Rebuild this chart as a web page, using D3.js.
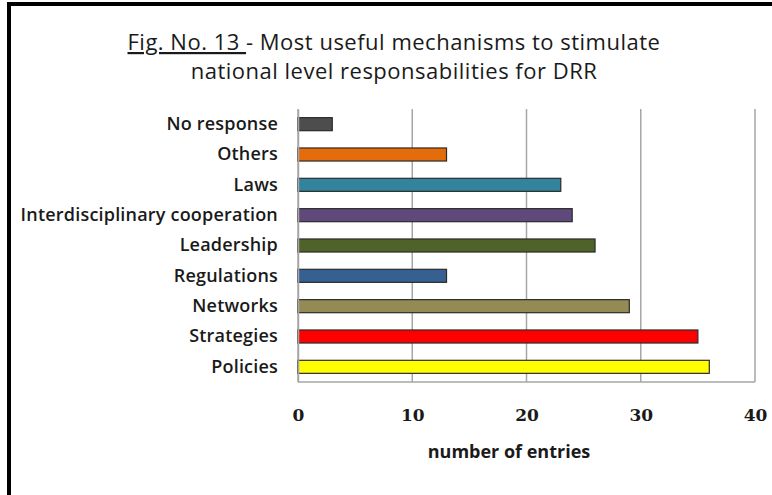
<!DOCTYPE html>
<html>
<head>
<meta charset="utf-8">
<script src="https://cdn.jsdelivr.net/npm/d3@7"></script>
<style>
  html, body { margin: 0; padding: 0; background: #fff; }
  svg { display: block; }
</style>
</head>
<body>
<svg id="chart" width="772" height="495"></svg>
<script>
// Survey answers: most useful mechanisms (top to bottom as shown)
const categories = [
  "No response", "Others", "Laws", "Interdisciplinary cooperation",
  "Leadership", "Regulations", "Networks", "Strategies", "Policies"
];
const entries = [3, 13, 23, 24, 26, 13, 29, 35, 36];
const barColors = [
  "#4d4d4d", "#e46c0a", "#31849b", "#5f497a",
  "#4f6228", "#366092", "#948a54", "#ff0000", "#ffff00"
];
const xTicks = [0, 10, 20, 30, 40];
const titleLines = ["Most useful mechanisms to stimulate", "national level responsabilities for DRR"];
const figLabel = "Fig. No. 13 ";
const xAxisTitle = "number of entries";

const svg = d3.select("#chart");
const sans = "'Open Sans', Lato, sans-serif";

// outer frame (runs past the right and bottom edges)
svg.append("rect")
  .attr("x", 9).attr("y", 4)
  .attr("width", 800).attr("height", 520)
  .attr("fill", "none").attr("stroke", "#000").attr("stroke-width", 4);

const plot = { left: 298, right: 755, top: 109, bottom: 382 };

const x = d3.scaleLinear().domain([0, 40]).range([plot.left, plot.right]);
const y = d3.scaleBand().domain(categories)
  .range([plot.top, plot.bottom]).paddingInner(0.57).paddingOuter(0.285);

// gridlines
svg.append("g").selectAll("line").data(xTicks).join("line")
  .attr("x1", d => x(d)).attr("x2", d => x(d))
  .attr("y1", plot.top).attr("y2", plot.bottom)
  .attr("stroke", "#a6a6a6").attr("stroke-width", 1.5);

// bottom axis baseline
svg.append("line")
  .attr("x1", plot.left).attr("x2", plot.right)
  .attr("y1", plot.bottom).attr("y2", plot.bottom)
  .attr("stroke", "#a6a6a6").attr("stroke-width", 1.5);

// bars
svg.append("g").selectAll("rect").data(categories).join("rect")
  .attr("x", x(0))
  .attr("y", d => y(d))
  .attr("width", (d, i) => x(entries[i]) - x(0))
  .attr("height", y.bandwidth())
  .attr("fill", (d, i) => barColors[i])
  .attr("stroke", "#2b2b2b").attr("stroke-width", 1.2);

// category axis
const yAxis = d3.axisLeft(y).tickSize(0).tickPadding(20);
const yg = svg.append("g").attr("transform", `translate(${plot.left},0)`).call(yAxis);
yg.select(".domain").attr("stroke", "#a6a6a6").attr("stroke-width", 1.5);
yg.selectAll("text")
  .attr("font-family", sans).attr("font-size", 18).attr("font-weight", 600)
  .attr("letter-spacing", 0.2)
  .attr("fill", "#1a1a1a");

// value axis
const xAxis = d3.axisBottom(x).tickValues(xTicks).tickSize(0).tickPadding(27);
const xg = svg.append("g").attr("transform", `translate(0,${plot.bottom})`).call(xAxis);
xg.select(".domain").remove();
xg.selectAll("text")
  .attr("font-family", "'DejaVu Serif', serif").attr("font-size", 17).attr("font-weight", "bold")
  .attr("fill", "#1a1a1a");

// axis title
svg.append("text")
  .attr("x", 509).attr("y", 458)
  .attr("text-anchor", "middle")
  .attr("font-family", sans).attr("font-size", 18).attr("font-weight", "bold")
  .attr("fill", "#1a1a1a")
  .text(xAxisTitle);

// chart title
const t1 = svg.append("text")
  .attr("x", 394).attr("y", 50)
  .attr("text-anchor", "middle")
  .attr("font-family", sans).attr("font-size", 22).attr("letter-spacing", 0.5)
  .attr("fill", "#1a1a1a");
t1.append("tspan").attr("text-decoration", "underline").text(figLabel);
t1.append("tspan").text("- " + titleLines[0]);

svg.append("text")
  .attr("x", 394).attr("y", 79)
  .attr("text-anchor", "middle")
  .attr("font-family", sans).attr("font-size", 22).attr("letter-spacing", 0.5)
  .attr("fill", "#1a1a1a")
  .text(titleLines[1]);
</script>
</body>
</html>
